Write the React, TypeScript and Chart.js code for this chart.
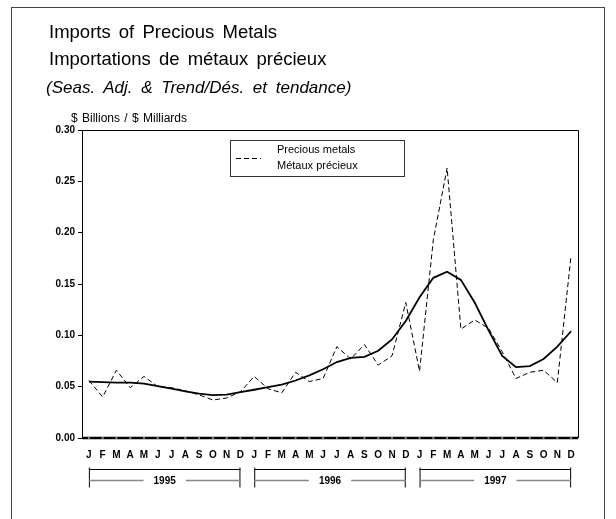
import React, { useEffect, useRef } from "react";
import { Chart, registerables } from "chart.js";

Chart.register(...registerables);

const FONT = "'Liberation Sans', Arial, Helvetica, sans-serif";

const months = ["J", "F", "M", "A", "M", "J", "J", "A", "S", "O", "N", "D"];
const years = ["1995", "1996", "1997"];
const categories = years.flatMap(() => months);

const preciousMetals = [
  0.056, 0.040, 0.066, 0.049, 0.060, 0.050, 0.049, 0.046, 0.042, 0.037, 0.039, 0.045,
  0.060, 0.048, 0.044, 0.064, 0.055, 0.058, 0.089, 0.077, 0.091, 0.071, 0.080, 0.132,
  0.065, 0.193, 0.263, 0.106, 0.115, 0.107, 0.084, 0.058, 0.064, 0.066, 0.054, 0.178,
];

const trend = [
  0.055, 0.0545, 0.054, 0.054, 0.053, 0.0505, 0.048, 0.0455, 0.0433, 0.0417, 0.0423, 0.0446,
  0.047, 0.0495, 0.052, 0.056, 0.061, 0.067, 0.074, 0.078, 0.079, 0.085, 0.096, 0.114,
  0.137, 0.156, 0.162, 0.154, 0.132, 0.105, 0.080, 0.069, 0.070, 0.077, 0.089, 0.104,
];

const yTicks = [0, 0.05, 0.1, 0.15, 0.2, 0.25, 0.3];
const legendLines = ["Precious metals", "Métaux précieux"];

const framePlugin = {
  id: "framePlugin",
  afterDatasetsDraw(chart: any) {
    const { ctx, chartArea, scales } = chart;
    const { left, right, top, bottom } = chartArea;
    ctx.save();
    ctx.strokeStyle = "#000";
    ctx.lineWidth = 1;
    ctx.beginPath();
    ctx.moveTo(left, top + 0.5);
    ctx.lineTo(right + 0.5, top + 0.5);
    ctx.lineTo(right + 0.5, bottom);
    ctx.stroke();
    const y0 = scales.y.getPixelForValue(0);
    ctx.lineWidth = 2.5;
    ctx.beginPath();
    ctx.moveTo(left, y0);
    ctx.lineTo(right, y0);
    ctx.stroke();
    ctx.strokeStyle = "#aaa";
    ctx.lineWidth = 1.5;
    for (let i = 0; i < categories.length; i++) {
      const x = scales.x.getPixelForValue(i);
      ctx.beginPath();
      ctx.moveTo(x - 1, y0);
      ctx.lineTo(x + 1, y0);
      ctx.stroke();
    }
    ctx.restore();
  },
};

const legendPlugin = {
  id: "legendBox",
  afterDraw(chart: any) {
    const { ctx } = chart;
    ctx.save();
    const bx = 230.5, by = 140.5, bw = 174, bh = 36;
    ctx.strokeStyle = "#333";
    ctx.lineWidth = 1;
    ctx.strokeRect(bx, by, bw, bh);
    ctx.strokeStyle = "#000";
    ctx.setLineDash([5, 3]);
    ctx.beginPath();
    ctx.moveTo(236, 158.5);
    ctx.lineTo(261, 158.5);
    ctx.stroke();
    ctx.setLineDash([]);
    ctx.fillStyle = "#000";
    ctx.font = `11px ${FONT}`;
    ctx.textBaseline = "middle";
    ctx.textAlign = "left";
    ctx.fillText(legendLines[0], 277, 150);
    ctx.fillText(legendLines[1], 277, 166);
    ctx.restore();
  },
};

const yearPlugin = {
  id: "yearBrackets",
  afterDraw(chart: any) {
    const { ctx, scales } = chart;
    ctx.save();
    ctx.font = `bold 10px ${FONT}`;
    ctx.textBaseline = "middle";
    ctx.textAlign = "center";
    years.forEach((yr, i) => {
      const x0 = scales.x.getPixelForValue(i * 12);
      const x1 = scales.x.getPixelForValue(i * 12 + 11);
      const yTop = 469.5;
      const yMid = 480.5;
      ctx.strokeStyle = "#000";
      ctx.lineWidth = 1;
      ctx.beginPath();
      ctx.moveTo(x0, yTop);
      ctx.lineTo(x1, yTop);
      ctx.moveTo(x0 + 0.5, yTop - 2);
      ctx.lineTo(x0 + 0.5, yMid + 7);
      ctx.moveTo(x1 - 0.5, yTop - 2);
      ctx.lineTo(x1 - 0.5, yMid + 7);
      ctx.stroke();
      const cx = (x0 + x1) / 2;
      const tw = ctx.measureText(yr).width;
      ctx.strokeStyle = "#888";
      ctx.lineWidth = 1.5;
      ctx.beginPath();
      ctx.moveTo(x0, yMid);
      ctx.lineTo(cx - tw / 2 - 10, yMid);
      ctx.moveTo(cx + tw / 2 + 10, yMid);
      ctx.lineTo(x1, yMid);
      ctx.stroke();
      ctx.fillStyle = "#000";
      ctx.fillText(yr, cx, yMid + 0.5);
    });
    ctx.restore();
  },
};

export default function App() {
  const canvasRef = useRef<HTMLCanvasElement | null>(null);

  useEffect(() => {
    if (!canvasRef.current) return;
    const chart = new Chart(canvasRef.current, {
      type: "line",
      data: {
        labels: categories,
        datasets: [
          {
            label: "Precious metals / Métaux précieux",
            data: preciousMetals,
            borderColor: "#000",
            borderWidth: 1,
            borderDash: [5, 3],
            pointRadius: 0,
            tension: 0,
            fill: false,
          },
          {
            label: "Trend",
            data: trend,
            borderColor: "#000",
            borderWidth: 1.8,
            pointRadius: 0,
            tension: 0,
            fill: false,
          },
        ],
      },
      options: {
        responsive: false,
        animation: false,
        events: [],
        layout: { padding: { left: 42, right: 38, top: 130, bottom: 51 } },
        plugins: {
          legend: { display: false },
          title: { display: false },
          tooltip: { enabled: false },
        },
        scales: {
          x: {
            type: "category",
            offset: true,
            grid: { display: false, drawTicks: false },
            border: { display: false },
            ticks: {
              autoSkip: false,
              maxRotation: 0,
              padding: 11,
              color: "#000",
              font: { family: FONT, size: 10, weight: "bold" },
            },
            afterFit: (s: any) => {
              s.height = 30;
            },
          },
          y: {
            min: 0,
            max: 0.3,
            afterBuildTicks: (s: any) => {
              s.ticks = yTicks.map((v) => ({ value: v }));
            },
            ticks: {
              padding: 3,
              color: "#000",
              font: { family: FONT, size: 10, weight: "bold" },
              callback: (v: any) => Number(v).toFixed(2),
            },
            grid: { drawOnChartArea: false, drawTicks: true, tickLength: 4, color: "#000" },
            border: { display: true, color: "#000", width: 1 },
            afterFit: (s: any) => {
              s.width = 40;
            },
          },
        },
      },
      plugins: [framePlugin, legendPlugin, yearPlugin],
    });
    return () => chart.destroy();
  }, []);

  const textBase: React.CSSProperties = {
    position: "absolute",
    fontFamily: FONT,
    color: "#000",
    whiteSpace: "nowrap",
    margin: 0,
  };

  return (
    <div
      style={{
        position: "fixed",
        left: 0,
        top: 0,
        width: 616,
        height: 519,
        background: "#fff",
        overflow: "hidden",
      }}
    >
      <div
        style={{
          position: "absolute",
          left: 11,
          top: 7,
          width: 592,
          height: 540,
          border: "1.5px solid #444",
        }}
      />
      <canvas
        ref={canvasRef}
        width={616}
        height={519}
        style={{ position: "absolute", left: 0, top: 0, width: 616, height: 519 }}
      />
      <div style={{ ...textBase, left: 49, top: 20, fontSize: 18.5, lineHeight: "24px", wordSpacing: 3 }}>
        Imports of Precious Metals
      </div>
      <div style={{ ...textBase, left: 49, top: 47, fontSize: 18.5, lineHeight: "24px", wordSpacing: 3 }}>
        Importations de métaux précieux
      </div>
      <div style={{ ...textBase, left: 46, top: 77, fontSize: 17, lineHeight: "22px", fontStyle: "italic", wordSpacing: 4 }}>
        (Seas. Adj. &amp; Trend/Dés. et tendance)
      </div>
      <div style={{ ...textBase, left: 71, top: 110, fontSize: 12, lineHeight: "16px", wordSpacing: 1 }}>
        $ Billions / $ Milliards
      </div>
    </div>
  );
}
